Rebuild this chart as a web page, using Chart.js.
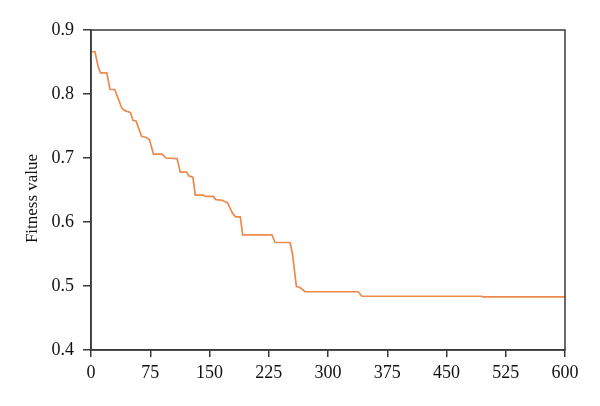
<!DOCTYPE html>
<html>
<head>
<meta charset="utf-8">
<script src="https://cdn.jsdelivr.net/npm/chart.js@4/dist/chart.umd.min.js"></script>
<style>
    html, body { margin: 0; padding: 0; background: #fff; }
    #wrap { width: 600px; height: 406px; }
</style>
</head>
<body>
<div id="wrap"><canvas id="fitnessChart"></canvas></div>
<script>
// Iteration numbers and fitness values
const iterations = [1, 5, 9, 12, 20, 24, 30, 39, 43, 50, 53, 57, 64, 70, 74, 79, 90, 95, 109, 113,
    121, 124, 129, 132, 142, 145, 155, 158, 166, 173, 179, 183, 189, 192, 229, 233, 252, 255, 260,
    264, 271, 338, 343, 494, 496, 600];
const fitness = [0.866, 0.866, 0.843, 0.833, 0.833, 0.807, 0.807, 0.778, 0.774, 0.771, 0.759, 0.758,
    0.734, 0.732, 0.729, 0.706, 0.706, 0.700, 0.699, 0.678, 0.678, 0.672, 0.670, 0.642, 0.642, 0.640,
    0.640, 0.635, 0.634, 0.630, 0.614, 0.608, 0.608, 0.580, 0.580, 0.568, 0.568, 0.551, 0.499, 0.498,
    0.491, 0.491, 0.484, 0.484, 0.483, 0.483];
const xTicks = [0, 75, 150, 225, 300, 375, 450, 525, 600];
const yTicks = [0.4, 0.5, 0.6, 0.7, 0.8, 0.9];

const axisColor = '#3a3a3a';
const serif = "'Liberation Serif', 'DejaVu Serif', serif";

// draws top/right border so the plot looks boxed
const frame = {
    id: 'frame',
    afterDraw(chart) {
        const a = chart.chartArea;
        const ctx = chart.ctx;
        ctx.save();
        ctx.strokeStyle = axisColor;
        ctx.lineWidth = 1.5;
        ctx.strokeRect(a.left, a.top, a.right - a.left, a.bottom - a.top);
        ctx.restore();
    }
};

new Chart(document.getElementById('fitnessChart'), {
    type: 'line',
    data: {
        datasets: [{
            data: iterations.map((x, i) => ({x: x, y: fitness[i]})),
            borderColor: '#ec8a4b',
            borderWidth: 1.7,
            pointRadius: 0,
            tension: 0,
            fill: false
        }]
    },
    options: {
        responsive: true,
        maintainAspectRatio: false,
        animation: false,
        layout: {padding: {top: 30, right: 35, left: 0, bottom: 0}},
        plugins: {legend: {display: false}, tooltip: {enabled: false}},
        scales: {
            x: {
                type: 'linear',
                min: 0,
                max: 600,
                afterBuildTicks: s => { s.ticks = xTicks.map(v => ({value: v})); },
                afterFit: s => { s.height = 56; },
                border: {color: axisColor, width: 1.5},
                grid: {drawOnChartArea: false, tickLength: 7, color: axisColor, lineWidth: 1.5},
                ticks: {color: '#111', padding: 5, font: {family: serif, size: 18}, maxRotation: 0}
            },
            y: {
                min: 0.4,
                max: 0.9,
                afterBuildTicks: s => { s.ticks = yTicks.map(v => ({value: v})); },
                afterFit: s => { s.width = 91; },
                border: {color: axisColor, width: 1.5},
                grid: {drawOnChartArea: false, tickLength: 8, color: axisColor, lineWidth: 1.5},
                ticks: {color: '#111', padding: 9, font: {family: serif, size: 18},
                    callback: v => v.toFixed(1)},
                title: {display: true, text: 'Fitness value\u00a0\u00a0\u00a0\u00a0', color: '#111',
                    font: {family: serif, size: 17}, padding: {top: 22, bottom: 0}}
            }
        }
    },
    plugins: [frame]
});
</script>
</body>
</html>
